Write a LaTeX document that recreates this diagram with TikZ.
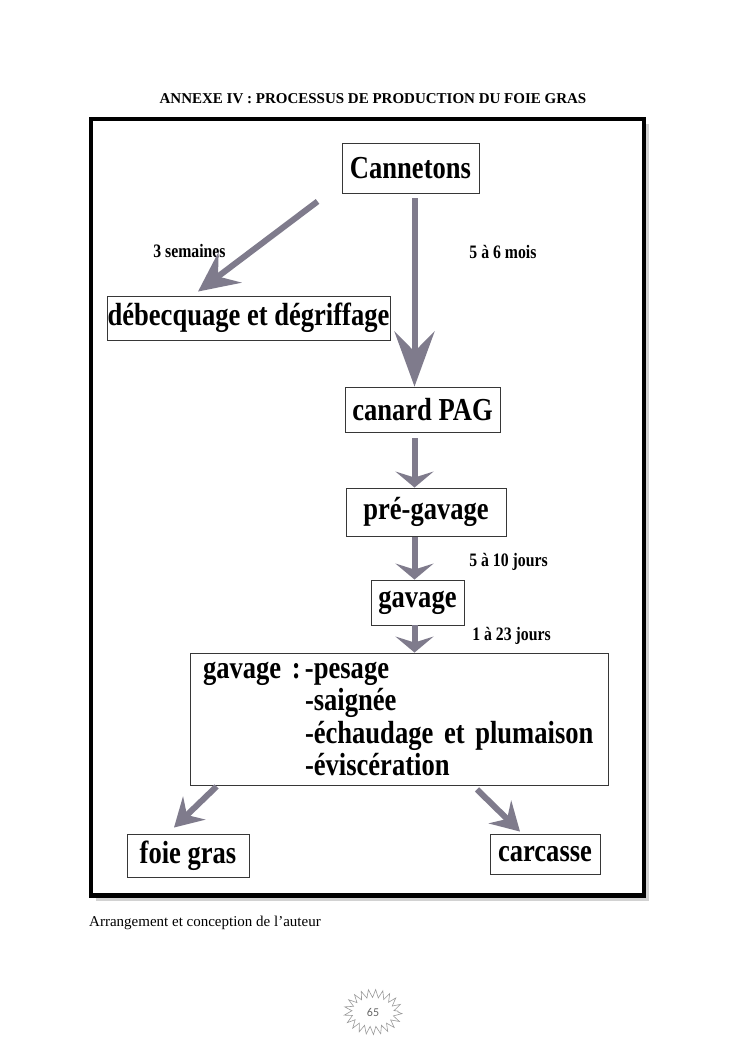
\documentclass[tikz,border=0pt]{standalone}
\usepackage{fontspec}
\setmainfont{Liberation Serif}
\newfontfamily\condfont[FakeStretch=0.83]{Liberation Serif}
\newfontfamily\numfont{Carlito}
\usetikzlibrary{arrows.meta,positioning,shadows,decorations.pathmorphing}
\definecolor{arrowgray}{RGB}{127,123,140}
\definecolor{boxline}{RGB}{55,55,55}
\tikzset{
	etape/.style={draw=boxline, line width=0.9pt, fill=white, inner sep=0pt,
		font=\condfont\bfseries\fontsize{32}{32.3}\selectfont},
	duree/.style={inner sep=0pt, font=\condfont\bfseries\fontsize{19}{19}\selectfont},
	fleche/.style={draw=arrowgray, line width=6pt,
		-{Stealth[length=16pt,width=38pt,inset=6pt]}},
	grandefleche/.style={draw=arrowgray, line width=6pt,
		-{Stealth[length=55pt,width=40pt,inset=20pt]}},
	diagfleche/.style={draw=arrowgray, line width=6pt,
		-{Stealth[length=40pt,width=38pt,inset=15pt]}},
	petitefleche/.style={draw=arrowgray, line width=6pt,
		-{Stealth[length=28pt,width=32pt,inset=10pt]}}
}

\begin{document}
\begin{tikzpicture}[x=1pt,y=-1pt]
	\useasboundingbox (0,0) rectangle (745,1053);

	\node[font=\bfseries\fontsize{15}{15}\selectfont] (titre) at (373,99)
		{ANNEXE IV : PROCESSUS DE PRODUCTION DU FOIE GRAS};

	% cadre
	\draw[line width=4.5pt, fill=white,
		drop shadow={shadow xshift=5pt, shadow yshift=-5pt, fill=black!35}]
		(91,119) rectangle (644,895.5);

	\node[etape, minimum width=137pt, minimum height=50pt] (cann) at (410.5,168) {Cannetons};
	\node[etape, minimum width=283pt, minimum height=44pt] (debec) at (248.5,318) {débecquage et dégriffage};
	\node[etape, minimum width=155pt, minimum height=45pt] (pag) at (422.5,409.5) {canard PAG};
	\node[etape, minimum width=160pt, minimum height=48pt] (pregav) at (426,512) {pré-gavage};
	\node[etape, minimum width=93pt, minimum height=45pt] (gav) at (417.5,602.5) {gavage};
	\node[etape, minimum width=418pt, minimum height=132pt, inner xsep=13pt,
		text width=392pt, align=left] (abat) at (399,719)
		{\mbox{\makebox[102pt][l]{gavage :}-pesage}\\
		\mbox{\hspace*{102pt}-saignée}\\
		\mbox{\hspace*{102pt}-échaudage et plumaison}\\
		\mbox{\hspace*{102pt}-éviscération}};
	\node[etape, minimum width=122pt, minimum height=43pt] (foie) at (188,855.5) {foie gras};
	\node[etape, minimum width=110pt, minimum height=40pt] (carc) at (545,854) {carcasse};

	\node[duree] (sem) at (189.5,251) {3 semaines};
	\node[duree] (mois) at (503,252) {5 à 6 mois};
	\node[duree] (jours1) at (508.5,562) {5 à 10 jours};
	\node[duree] (jours2) at (511.5,636) {1 à 23 jours};

	\coordinate (axe) at (414.5,0);
	\draw[grandefleche, shorten <=5pt] (cann.south -| axe) -- (pag.north -| axe);
	\draw[diagfleche] ([shift={(-24,8)}]cann.south west) -- ([shift={(-50.5,-4)}]debec.north);
	\draw[fleche, shorten <=6pt] (pag.south -| axe) -- (pregav.north -| axe);
	\draw[fleche, shorten <=1pt] (pregav.south -| axe) -- (gav.north -| axe);
	\draw[fleche] (gav.south -| axe) -- (abat.north -| axe);
	\draw[petitefleche] ([shift={(27,1)}]abat.south west) -- ([shift={(-14,-6)}]foie.north);
	\draw[petitefleche] ([shift={(78,4)}]abat.south) -- ([shift={(-25,-2)}]carc.north);

	\node[anchor=base west, inner sep=0pt, font=\fontsize{15}{15}\selectfont] (source) at (89,926)
		{Arrangement et conception de l’auteur};

	\node[text=black!60, font=\numfont\fontsize{12}{12}\selectfont] (page) at (373,1012) {65};
	\draw[black!40, line width=0.6pt, decorate,
		decoration={zigzag, segment length=6.5pt, amplitude=4pt}]
		(page) ellipse [x radius=25, y radius=18.5];
\end{tikzpicture}
\end{document}
